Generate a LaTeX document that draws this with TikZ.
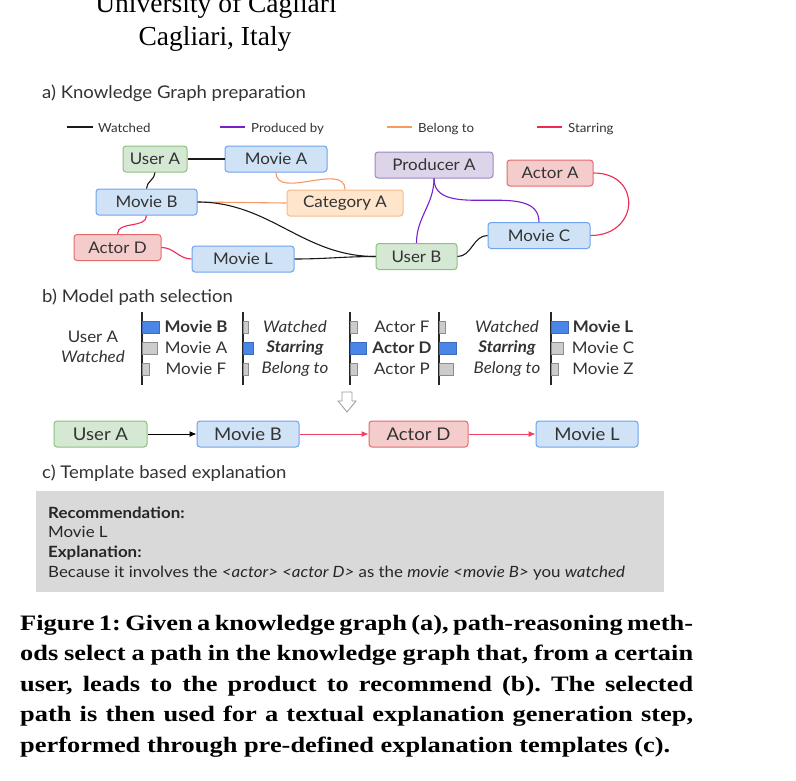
\documentclass[tikz,border=0pt]{standalone}
\usepackage{fontspec}
\setmainfont{Lato}[FakeStretch=1.06]
\newfontfamily\boxfont{Lato}[FakeStretch=1.09]
\newfontfamily\headfont{Liberation Serif}
\newfontfamily\capfont{Liberation Serif}[FakeStretch=1.2]
\usetikzlibrary{arrows.meta}
\frenchspacing

\definecolor{usrfill}{HTML}{D5E8D4}
\definecolor{usrline}{HTML}{8CC27A}
\definecolor{movfill}{HTML}{D0E2F5}
\definecolor{movline}{HTML}{6FA3EF}
\definecolor{actfill}{HTML}{F5CCCC}
\definecolor{actline}{HTML}{E56A6E}
\definecolor{catfill}{HTML}{FFE5CC}
\definecolor{catline}{HTML}{F7B98A}
\definecolor{prdfill}{HTML}{DDD4EA}
\definecolor{prdline}{HTML}{9A87C5}
\definecolor{watchcol}{HTML}{1A1A1A}
\definecolor{prodcol}{HTML}{7A1FCC}
\definecolor{belongcol}{HTML}{F59A62}
\definecolor{starcol}{HTML}{EE2A52}
\definecolor{barblue}{HTML}{4A86E8}
\definecolor{bargray}{HTML}{CCCCCC}
\definecolor{boxgray}{HTML}{D9D9D9}
\definecolor{txt}{HTML}{333333}

\tikzset{
  kgnode/.style={rounded corners=3pt, line width=1pt, minimum height=26pt, inner sep=0pt,
    text=txt, font=\fontsize{16}{18}\selectfont},
  pathnode/.style={kgnode, font=\fontsize{17.5}{19}\selectfont},
  usr/.style={draw=usrline, fill=usrfill},
  mov/.style={draw=movline, fill=movfill},
  act/.style={draw=actline, fill=actfill},
  cat/.style={draw=catline, fill=catfill},
  prd/.style={draw=prdline, fill=prdfill},
  watched/.style={line width=1.1pt, draw=watchcol},
  produced/.style={line width=1.1pt, draw=prodcol},
  belong/.style={line width=1.1pt, draw=belongcol},
  starring/.style={line width=1.1pt, draw=starcol},
  legend/.style={anchor=base west, inner sep=0pt, text=txt, font=\fontsize{12.5}{14}\selectfont},
  section/.style={anchor=base west, inner sep=0pt, text=txt, font=\fontsize{17.5}{20}\selectfont},
  hop/.style={inner sep=0pt, text=txt, font=\fontsize{16}{18}\selectfont},
  bluebar/.style={fill=barblue, draw=barblue!80!black, line width=.5pt},
  graybar/.style={fill=bargray, draw=black!45, line width=.5pt},
  boxtext/.style={anchor=base west, inner sep=0pt, text=black!85, font=\boxfont\fontsize{15.5}{17}\selectfont},
  capline/.style={anchor=base west, inner sep=0pt, font=\capfont\bfseries\fontsize{22}{25}\selectfont},
}

\begin{document}
\begin{tikzpicture}[x=1pt, y=-1pt]
\useasboundingbox (0,0) rectangle (796,780);
\fill[white] (0,0) rectangle (796,780);

% header
\node[anchor=base, inner sep=0pt, font=\headfont\fontsize{27.5}{30}\selectfont] (univ) at (216,12) {University of Cagliari};
\node[anchor=base, inner sep=0pt, font=\headfont\fontsize{27.5}{30}\selectfont] (city) at (215,45) {Cagliari, Italy};

% a) knowledge graph
\node[section] (secA) at (42,98) {a) Knowledge Graph preparation};

\draw[watched] (67,127) -- (93,127);
\node[legend] (lgW) at (98,132) {Watched};
\draw[produced] (220,127) -- (245,127);
\node[legend] (lgP) at (251,132) {Produced by};
\draw[belong] (387,127) -- (412,127);
\node[legend] (lgB) at (418,132) {Belong to};
\draw[starring] (537,127) -- (562,127);
\node[legend] (lgS) at (568,132) {Starring};

\node[kgnode, usr, minimum width=64pt] (usrA) at (155,159) {User A};
\node[kgnode, mov, minimum width=102pt] (movA) at (276,159) {Movie A};
\node[kgnode, mov, minimum width=101pt] (movB) at (146.5,202) {Movie B};
\node[kgnode, cat, minimum width=116pt] (catA) at (345,203) {Category A};
\node[kgnode, act, minimum width=87pt] (actD) at (117.5,247.5) {Actor D};
\node[kgnode, mov, minimum width=102pt] (movL) at (243,259) {Movie L};
\node[kgnode, usr, minimum width=81pt] (usrB) at (416.5,256.5) {User B};
\node[kgnode, prd, minimum width=118pt] (prdA) at (434,165) {Producer A};
\node[kgnode, act, minimum width=86pt] (actA) at (550,173) {Actor A};
\node[kgnode, mov, minimum width=102pt] (movC) at (539,235.5) {Movie C};

\draw[watched] (usrA.east) -- (movA.west);
\draw[watched] (usrA.south) to[out=-90, in=90] (movB.north);
\draw[belong] (movA.south) to[out=-90, in=90] (catA.north);
\draw[belong] (movB.east) -- (catA.west);
\draw[watched] (movB.east) to[out=0, in=180] (usrB.west);
\draw[starring] (movB.south) to[out=-90, in=90] (actD.north);
\draw[starring] (actD.east) to[out=0, in=180] (movL.west);
\draw[watched] (movL.east) to[out=0, in=180] (usrB.west);
\draw[produced] (prdA.south) to[out=-90, in=90] (usrB.north);
\draw[produced] (prdA.south) to[out=-90, in=90] (movC.north);
\draw[watched] (usrB.east) to[out=0, in=180] (movC.west);
\draw[starring] (actA.east) to[out=0, in=0, looseness=2] (movC.east);

% b) model path selection
\node[section] (secB) at (42,302) {b) Model path selection};

\node[hop] (start1) at (93,337) {User A};
\node[hop] (start2) at (93,357) {\itshape Watched};

\draw[line width=1.1pt, black!85] (142,312) -- (142,385);
\draw[line width=1.1pt, black!85] (243,312) -- (243,385);
\draw[line width=1.1pt, black!85] (350,312) -- (350,385);
\draw[line width=1.1pt, black!85] (439,312) -- (439,385);
\draw[line width=1.1pt, black!85] (551,312) -- (551,385);

\filldraw[bluebar] (142,321) rectangle ++(17,12);
\filldraw[graybar] (142,342) rectangle ++(15,12);
\filldraw[graybar] (142,363) rectangle ++(7,12);
\filldraw[graybar] (243,321) rectangle ++(5,12);
\filldraw[bluebar] (243,342) rectangle ++(10,12);
\filldraw[graybar] (243,363) rectangle ++(5,12);
\filldraw[graybar] (350,321) rectangle ++(7,12);
\filldraw[bluebar] (350,342) rectangle ++(16,12);
\filldraw[graybar] (350,363) rectangle ++(7,12);
\filldraw[graybar] (439,321) rectangle ++(6,12);
\filldraw[bluebar] (439,342) rectangle ++(17,12);
\filldraw[graybar] (439,363) rectangle ++(14,12);
\filldraw[bluebar] (551,321) rectangle ++(17,12);
\filldraw[graybar] (551,342) rectangle ++(12,12);
\filldraw[graybar] (551,363) rectangle ++(7,12);

\node[hop] (h1a) at (196,327) {\bfseries Movie B};
\node[hop] (h1b) at (196,348) {Movie A};
\node[hop] (h1c) at (196,369) {Movie F};
\node[hop] (h2a) at (295,327) {\itshape Watched};
\node[hop] (h2b) at (295,348) {\bfseries\itshape Starring};
\node[hop] (h2c) at (295,369) {\itshape Belong to};
\node[hop] (h3a) at (402,327) {Actor F};
\node[hop] (h3b) at (402,348) {\bfseries Actor D};
\node[hop] (h3c) at (402,369) {Actor P};
\node[hop] (h4a) at (507,327) {\itshape Watched};
\node[hop] (h4b) at (507,348) {\bfseries\itshape Starring};
\node[hop] (h4c) at (507,369) {\itshape Belong to};
\node[hop] (h5a) at (603,327) {\bfseries Movie L};
\node[hop] (h5b) at (603,348) {Movie C};
\node[hop] (h5c) at (603,369) {Movie Z};

% hollow down arrow
\filldraw[fill=white, draw=black!40, line width=.8pt] (342,392) -- (352,392) -- (352,401) -- (356,401)
  -- (347,412) -- (338,401) -- (342,401) -- cycle;

\node[pathnode, usr, minimum width=93pt] (pUsrA) at (100.5,434) {User A};
\node[pathnode, mov, minimum width=102pt] (pMovB) at (248,434) {Movie B};
\node[pathnode, act, minimum width=99pt] (pActD) at (418.5,434) {Actor D};
\node[pathnode, mov, minimum width=102pt] (pMovL) at (587,434) {Movie L};

\draw[line width=1pt, black, -{Latex[length=7pt, width=6pt]}] (pUsrA) -- (pMovB);
\draw[line width=1pt, starcol!90!white, -{Latex[length=7pt, width=6pt]}] (pMovB) -- (pActD);
\draw[line width=1pt, starcol!90!white, -{Latex[length=7pt, width=6pt]}] (pActD) -- (pMovL);

% c) template based explanation
\node[section] (secC) at (42,478) {c) Template based explanation};

\fill[boxgray] (36,491) rectangle (664,592);
\node[boxtext] (recT) at (48,518) {\bfseries Recommendation:};
\node[boxtext] (recV) at (48,537.5) {Movie L};
\node[boxtext] (expT) at (48,557) {\bfseries Explanation:};
\node[boxtext] (expV) at (48,577) {Because it involves the \textit{<actor> <actor D>} as the \textit{movie <movie B>} you \textit{watched}};

% caption
\node[capline] (cap1) at (20,630) {\makebox[673pt][s]{Figure 1: Given a knowledge graph (a), path-reasoning meth-}};
\node[capline] (cap2) at (20,660.5) {\makebox[673pt][s]{ods select a path in the knowledge graph that, from a certain}};
\node[capline] (cap3) at (20,691) {\makebox[673pt][s]{user, leads to the product to recommend (b). The selected}};
\node[capline] (cap4) at (20,721.5) {\makebox[673pt][s]{path is then used for a textual explanation generation step,}};
\node[capline] (cap5) at (20,752) {performed through pre-defined explanation templates (c).};
\end{tikzpicture}
\end{document}
